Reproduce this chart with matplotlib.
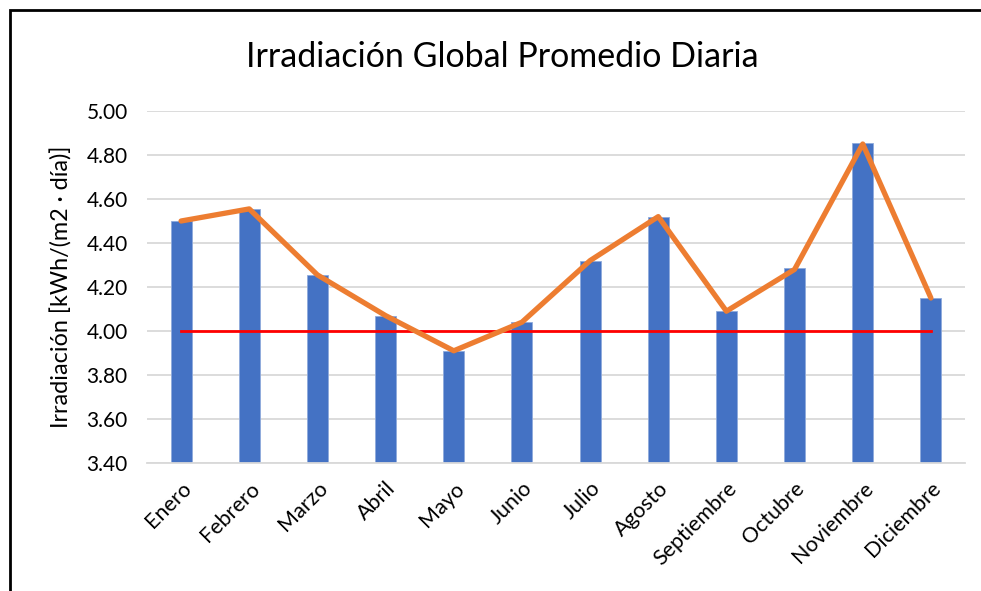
import matplotlib as mpl
mpl.use('Agg')
import matplotlib.pyplot as plt
import numpy as np
from matplotlib.patches import Rectangle
from matplotlib.ticker import FormatStrFormatter

plt.rcParams['font.family'] = ['Lato', 'DejaVu Sans']

# Data
months = ["Enero", "Febrero", "Marzo", "Abril", "Mayo", "Junio", "Julio",
          "Agosto", "Septiembre", "Octubre", "Noviembre", "Diciembre"]
irradiation_bars = [4.50, 4.555, 4.255, 4.07, 3.91, 4.04, 4.32, 4.52, 4.09, 4.285, 4.855, 4.15]
irradiation_line = [4.50, 4.555, 4.255, 4.07, 3.91, 4.04, 4.32, 4.52, 4.09, 4.28, 4.85, 4.15]
reference_level = 4.00
y_ticks = [3.40, 3.60, 3.80, 4.00, 4.20, 4.40, 4.60, 4.80, 5.00]

fig = plt.figure(figsize=(9.81, 5.91), dpi=100)
subplot = fig.add_axes([147 / 981, 128 / 591, 818 / 981, 352 / 591])

x = np.arange(len(months))
subplot.bar(x, irradiation_bars, 0.31, bottom=0, color="#4472C4", edgecolor="#8FAADC",
            linewidth=0.6, zorder=2)
subplot.plot(x, irradiation_line, color="#ED7D31", linewidth=3.8, solid_joinstyle="round",
             solid_capstyle="round", zorder=4)
subplot.plot([x[0], x[-1]], [reference_level] * 2, color="#FF0000", linewidth=2, zorder=3)

# Parameters
subplot.set_xlim(-0.5, len(months) - 0.5)
subplot.set_ylim(3.40, 5.00)
subplot.set_yticks(y_ticks)
subplot.yaxis.set_major_formatter(FormatStrFormatter('%.2f'))
subplot.set_xticks(x)
subplot.set_xticklabels(months, rotation=45, ha="right", rotation_mode="anchor")
subplot.tick_params(axis="both", length=0, labelsize=15, colors="black")
subplot.tick_params(axis="x", labelsize=15.5, pad=11)
subplot.tick_params(axis="y", pad=14)
subplot.grid(axis="y", color="#D9D9D9", linewidth=1.3, zorder=0)
subplot.set_axisbelow(True)
for side in ["top", "right", "left"]:
    subplot.spines[side].set_visible(False)
subplot.spines["bottom"].set_color("#D9D9D9")
subplot.spines["bottom"].set_linewidth(1.3)
subplot.set_ylabel("Irradiación [kWh/(m2 · día)]", fontsize=16.8, labelpad=10)

fig.text(0.512, 0.903, "Irradiación Global Promedio Diaria", fontsize=24.5, ha="center", va="center")

# Outer chart border (cropped on right and bottom)
fig.patches.append(Rectangle((10 / 981, -0.1), 1.1, 0.1 + (591 - 10) / 591, transform=fig.transFigure,
                             fill=False, edgecolor="black", linewidth=2))

fig.savefig("out.png", dpi=100)
